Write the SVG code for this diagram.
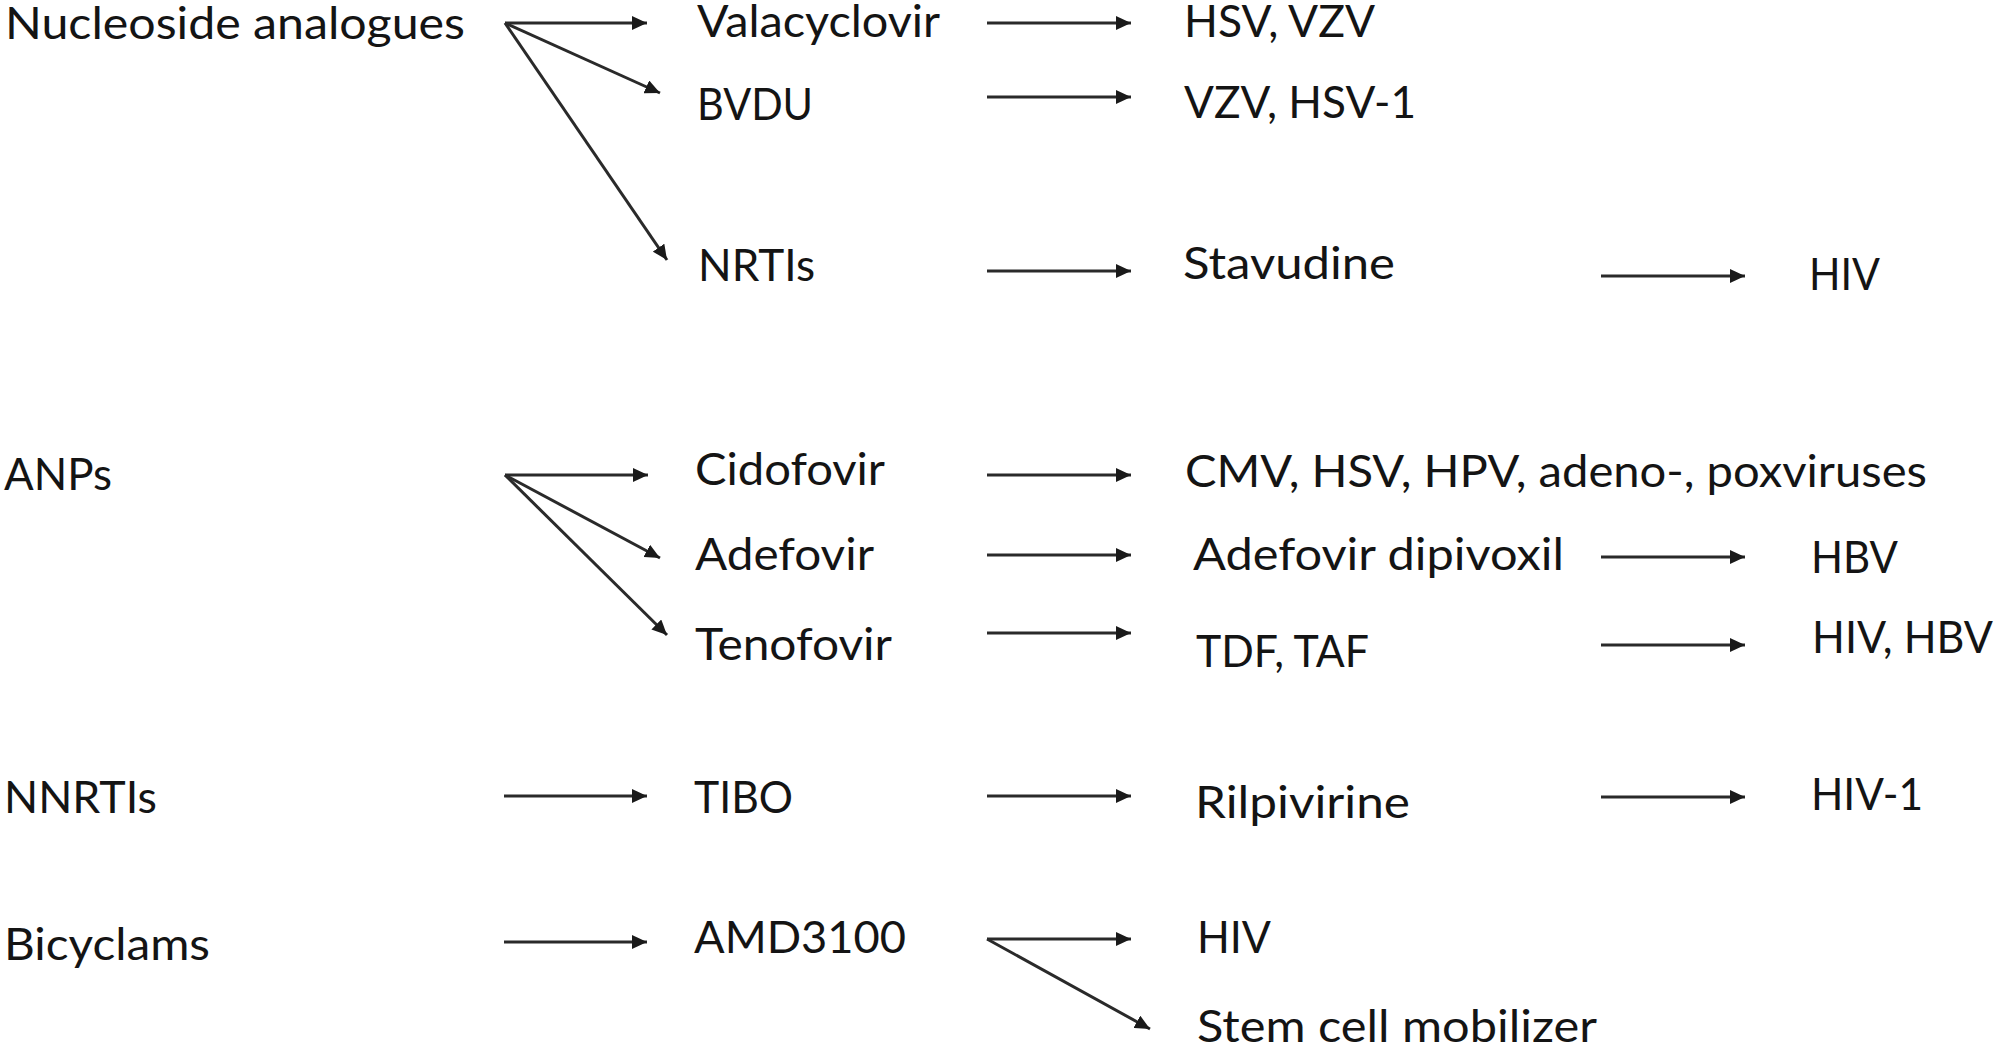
<svg xmlns="http://www.w3.org/2000/svg" width="1997" height="1048" viewBox="0 0 1997 1048">
<style>
text{font-family:Lato,"Open Sans","Liberation Sans",sans-serif;font-size:45px;fill:#141414}
.c line{stroke:#2a2a2a;stroke-width:3;marker-end:url(#ah)}
</style>
<defs>
<marker id="ah" markerUnits="userSpaceOnUse" markerWidth="16" markerHeight="14" refX="15" refY="7" orient="auto">
<path d="M0,0 L15,7 L0,14 z" fill="#1a1a1a"/>
</marker>
</defs>
<rect width="1997" height="1048" fill="#fff"/>
<g id="connectors" class="c">
<line x1="505" y1="23" x2="647" y2="23"/>
<line x1="505" y1="23" x2="660" y2="93"/>
<line x1="505" y1="23" x2="667" y2="260"/>
<line x1="987" y1="23" x2="1131" y2="23"/>
<line x1="987" y1="97" x2="1131" y2="97"/>
<line x1="987" y1="271" x2="1131" y2="271"/>
<line x1="1601" y1="276" x2="1745" y2="276"/>
<line x1="505" y1="475" x2="648" y2="475"/>
<line x1="505" y1="475" x2="660" y2="558"/>
<line x1="505" y1="475" x2="667" y2="635"/>
<line x1="987" y1="475" x2="1131" y2="475"/>
<line x1="987" y1="555" x2="1131" y2="555"/>
<line x1="1601" y1="557" x2="1745" y2="557"/>
<line x1="987" y1="633" x2="1131" y2="633"/>
<line x1="1601" y1="645" x2="1745" y2="645"/>
<line x1="504" y1="796" x2="647" y2="796"/>
<line x1="987" y1="796" x2="1131" y2="796"/>
<line x1="1601" y1="797" x2="1745" y2="797"/>
<line x1="504" y1="942" x2="647" y2="942"/>
<line x1="987" y1="939" x2="1131" y2="939"/>
<line x1="987" y1="939" x2="1150" y2="1029"/>
</g>
<g id="n-nucleoside"><text x="5" y="39" textLength="460" lengthAdjust="spacingAndGlyphs">Nucleoside analogues</text></g>
<g id="n-valacyclovir"><text x="697" y="37" textLength="243" lengthAdjust="spacingAndGlyphs">Valacyclovir</text></g>
<g id="n-hsv-vzv"><text x="1184" y="37" textLength="191" lengthAdjust="spacingAndGlyphs">HSV, VZV</text></g>
<g id="n-bvdu"><text x="697" y="120" textLength="116" lengthAdjust="spacingAndGlyphs">BVDU</text></g>
<g id="n-vzv-hsv1"><text x="1184" y="118" textLength="232" lengthAdjust="spacingAndGlyphs">VZV, HSV-1</text></g>
<g id="n-nrtis"><text x="698" y="281" textLength="117" lengthAdjust="spacingAndGlyphs">NRTIs</text></g>
<g id="n-stavudine"><text x="1183" y="279" textLength="212" lengthAdjust="spacingAndGlyphs">Stavudine</text></g>
<g id="n-hiv1"><text x="1809" y="290" textLength="71" lengthAdjust="spacingAndGlyphs">HIV</text></g>
<g id="n-anps"><text x="4" y="490" textLength="108" lengthAdjust="spacingAndGlyphs">ANPs</text></g>
<g id="n-cidofovir"><text x="695" y="485" textLength="190" lengthAdjust="spacingAndGlyphs">Cidofovir</text></g>
<g id="n-cmv"><text x="1185" y="487" textLength="742" lengthAdjust="spacingAndGlyphs">CMV, HSV, HPV, adeno-, poxviruses</text></g>
<g id="n-adefovir"><text x="695" y="570" textLength="179" lengthAdjust="spacingAndGlyphs">Adefovir</text></g>
<g id="n-adefovir-dip"><text x="1193" y="570" textLength="371" lengthAdjust="spacingAndGlyphs">Adefovir dipivoxil</text></g>
<g id="n-hbv"><text x="1811" y="573" textLength="87" lengthAdjust="spacingAndGlyphs">HBV</text></g>
<g id="n-tenofovir"><text x="695" y="660" textLength="197" lengthAdjust="spacingAndGlyphs">Tenofovir</text></g>
<g id="n-tdf-taf"><text x="1196" y="667" textLength="173" lengthAdjust="spacingAndGlyphs">TDF, TAF</text></g>
<g id="n-hiv-hbv"><text x="1812" y="653" textLength="181" lengthAdjust="spacingAndGlyphs">HIV, HBV</text></g>
<g id="n-nnrtis"><text x="4" y="813" textLength="153" lengthAdjust="spacingAndGlyphs">NNRTIs</text></g>
<g id="n-tibo"><text x="694" y="813" textLength="99" lengthAdjust="spacingAndGlyphs">TIBO</text></g>
<g id="n-rilpivirine"><text x="1195" y="818" textLength="215" lengthAdjust="spacingAndGlyphs">Rilpivirine</text></g>
<g id="n-hiv-1"><text x="1811" y="810" textLength="112" lengthAdjust="spacingAndGlyphs">HIV-1</text></g>
<g id="n-bicyclams"><text x="4" y="960" textLength="206" lengthAdjust="spacingAndGlyphs">Bicyclams</text></g>
<g id="n-amd3100"><text x="694" y="953" textLength="212" lengthAdjust="spacingAndGlyphs">AMD3100</text></g>
<g id="n-hiv2"><text x="1197" y="953" textLength="74" lengthAdjust="spacingAndGlyphs">HIV</text></g>
<g id="n-stem"><text x="1197" y="1042" textLength="400" lengthAdjust="spacingAndGlyphs">Stem cell mobilizer</text></g>
</svg>
